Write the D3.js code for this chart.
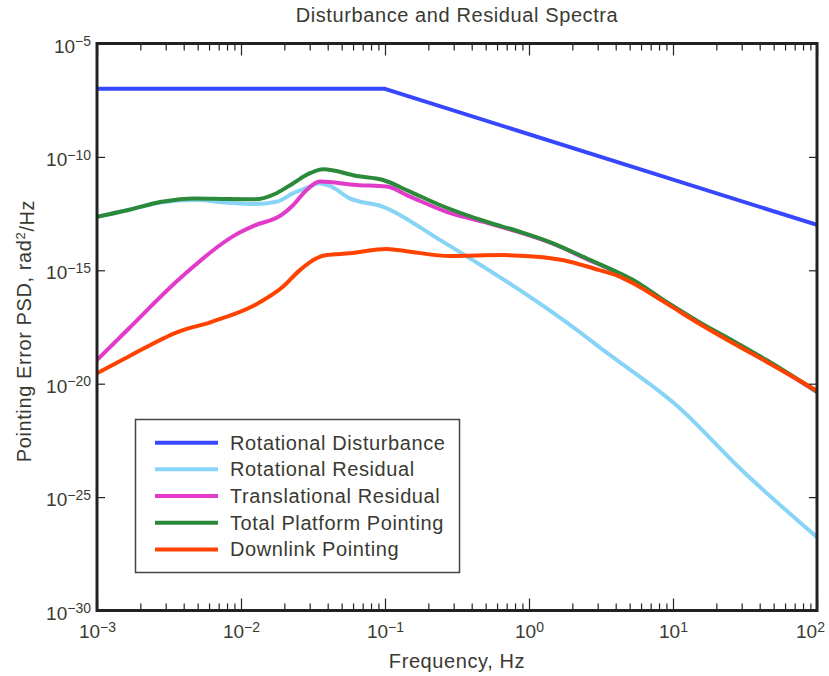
<!DOCTYPE html>
<html>
<head>
<meta charset="utf-8">
<script src="https://cdn.jsdelivr.net/npm/d3@7"></script>
<style>
  body { margin: 0; background: #fff; }
  svg { font-family: "Liberation Sans", Arial, sans-serif; }
  .domain { display: none; }
</style>
</head>
<body>
<svg id="chart" width="829" height="676"></svg>
<script>
// frequency (Hz) and PSD (rad^2/Hz)
const rotDistFreq = [0.001, 0.1, 100];
const rotDistPsd  = [1e-7, 1e-7, 1e-13];

const rotResFreq = [0.001, 0.00165, 0.00281, 0.00479, 0.00811, 0.0125, 0.01766, 0.02307, 0.03013, 0.03436, 0.0414, 0.057, 0.097, 0.2404, 1.726, 3.639, 10.57, 30.48, 100];
const rotResPsd  = [2.29e-13, 4.57e-13, 1.0e-12, 1.26e-12, 9.55e-13, 8.32e-13, 1.05e-12, 2.51e-12, 4.9e-12, 6.92e-12, 5.25e-12, 1.48e-12, 6.31e-13, 2.19e-14, 6.46e-18, 1.86e-19, 1.12e-21, 1.41e-24, 1.7e-27];

const transResFreq = [0.001, 0.00165, 0.00366, 0.00479, 0.00625, 0.00908, 0.0125, 0.01914, 0.02307, 0.02858, 0.03532, 0.0635, 0.1026, 0.149, 0.2673, 0.507, 0.863, 1.469, 2.506, 4.266, 9.016, 15.35, 26.18, 44.57, 100];
const transResPsd  = [1.1e-19, 2.57e-18, 3.72e-16, 1.66e-15, 6.76e-15, 3.55e-14, 9.55e-14, 2.75e-13, 7.59e-13, 3.47e-12, 8.13e-12, 5.75e-12, 4.9e-12, 1.78e-12, 3.8e-13, 1.26e-13, 4.68e-14, 1.48e-14, 3.16e-15, 6.92e-16, 3.8e-17, 4.8e-18, 7.4e-19, 1.05e-19, 4.27e-21];

const totalFreq = [0.001, 0.00165, 0.00281, 0.00479, 0.00811, 0.0125, 0.01766, 0.02307, 0.03013, 0.03724, 0.0635, 0.097, 0.149, 0.2404, 0.507, 0.863, 1.469, 2.506, 4.266, 5.284, 9.016, 15.35, 26.18, 44.57, 100];
const totalPsd  = [2.29e-13, 4.57e-13, 1.05e-12, 1.48e-12, 1.38e-12, 1.35e-12, 2.51e-12, 6.92e-12, 1.91e-11, 2.82e-11, 1.45e-11, 9.55e-12, 2.95e-12, 7.59e-13, 1.38e-13, 5.01e-14, 1.55e-14, 3.39e-15, 7.41e-16, 3.72e-16, 3.98e-17, 5.0e-18, 7.6e-19, 1.1e-19, 4.47e-21];

const downFreq = [0.001, 0.00165, 0.00366, 0.00625, 0.0125, 0.01963, 0.02564, 0.0335, 0.03926, 0.057, 0.1026, 0.149, 0.2818, 0.661, 1.253, 1.919, 2.786, 4.266, 5.284, 9.016, 15.35, 26.18, 44.57, 100];
const downPsd  = [2.88e-20, 1.55e-19, 1.95e-18, 5.37e-18, 2.95e-17, 1.91e-16, 1.02e-15, 3.39e-15, 4.68e-15, 5.62e-15, 8.71e-15, 6.61e-15, 4.27e-15, 4.68e-15, 3.72e-15, 2.4e-15, 1.23e-15, 5.25e-16, 2.69e-16, 3.47e-17, 4.27e-18, 6.03e-19, 9.33e-20, 4.9e-21];

const seriesNames = ["Rotational Disturbance", "Rotational Residual", "Translational Residual", "Total Platform Pointing", "Downlink Pointing"];
const seriesColors = ["#3747ff", "#88d4f6", "#e23bc9", "#2b8a3a", "#ff4200"];

const xMajor = [1e-3, 1e-2, 1e-1, 1e0, 1e1, 1e2];
const xMajorExp = ["−3", "−2", "−1", "0", "1", "2"];
const yMajor = [1e-5, 1e-10, 1e-15, 1e-20, 1e-25, 1e-30];
const yMajorExp = ["−5", "−10", "−15", "−20", "−25", "−30"];

const textColor = "#3a3a32";
const svg = d3.select("#chart");
const pLeft = 97, pRight = 817, pTop = 43.5, pBottom = 610.5;

const x = d3.scaleLog().domain([1e-3, 1e2]).range([pLeft, pRight]);
const y = d3.scaleLog().domain([1e-30, 1e-5]).range([pBottom, pTop]);

svg.append("defs").append("clipPath").attr("id", "plotclip")
  .append("rect").attr("x", pLeft).attr("y", pTop).attr("width", pRight - pLeft).attr("height", pBottom - pTop);

// series lines
let series = [
  [rotDistFreq, rotDistPsd],
  [rotResFreq, rotResPsd],
  [transResFreq, transResPsd],
  [totalFreq, totalPsd],
  [downFreq, downPsd]
];
let g = svg.append("g").attr("clip-path", "url(#plotclip)");
series.forEach(function (s, i) {
  let pts = s[0].map((f, k) => [f, s[1][k]]);
  let line = d3.line()
    .x(d => x(d[0]))
    .y(d => y(d[1]))
    .curve(i == 0 ? d3.curveLinear : d3.curveMonotoneX);
  g.append("path")
    .attr("d", line(pts))
    .attr("fill", "none")
    .attr("stroke", seriesColors[i])
    .attr("stroke-width", 4)
    .attr("stroke-linejoin", "round");
});

// minor x ticks
let xMinor = [];
for (let e = -3; e < 2; e++)
  for (let m = 2; m <= 9; m++) xMinor.push(m * Math.pow(10, e));

function expLabel(sel, exps) {
  sel.selectAll(".tick text").each(function (d, i) {
    let t = d3.select(this);
    t.text(null);
    t.append("tspan").text("10");
    t.append("tspan").attr("dy", "-0.45em").attr("font-size", "14px").text(exps[i]);
  });
}

// bottom axis
let bx = svg.append("g").attr("transform", `translate(0,${pBottom})`)
  .call(d3.axisBottom(x).tickValues(xMajor).tickSize(-12).tickPadding(14));
bx.selectAll(".tick text").attr("font-size", "19px").attr("fill", textColor);
expLabel(bx, xMajorExp);
// last label sits inside the window edge
bx.selectAll(".tick text").filter(d => d == 1e2).attr("dx", "-7px");
svg.append("g").attr("transform", `translate(0,${pBottom})`)
  .call(d3.axisBottom(x).tickValues(xMinor).tickSize(-7).tickFormat(""));

// top axis
svg.append("g").attr("transform", `translate(0,${pTop})`)
  .call(d3.axisTop(x).tickValues(xMajor).tickSize(-12).tickFormat(""));
svg.append("g").attr("transform", `translate(0,${pTop})`)
  .call(d3.axisTop(x).tickValues(xMinor).tickSize(-7).tickFormat(""));

// left axis
let ly = svg.append("g").attr("transform", `translate(${pLeft},0)`)
  .call(d3.axisLeft(y).tickValues(yMajor).tickSize(-8).tickPadding(6));
ly.selectAll(".tick text").attr("font-size", "19px").attr("fill", textColor).attr("dy", "0.45em");
expLabel(ly, yMajorExp);

// right axis
svg.append("g").attr("transform", `translate(${pRight},0)`)
  .call(d3.axisRight(y).tickValues(yMajor).tickSize(-8).tickFormat(""));

svg.selectAll(".tick line").attr("stroke", "#222").attr("stroke-width", 1.2);

// frame
svg.append("rect")
  .attr("x", pLeft).attr("y", pTop)
  .attr("width", pRight - pLeft).attr("height", pBottom - pTop)
  .attr("fill", "none").attr("stroke", "#222").attr("stroke-width", 3);

// title and axis labels
const labelFont = "20px", labelSpacing = "0.6px";
svg.append("text").attr("x", 457).attr("y", 22).attr("text-anchor", "middle")
  .attr("font-size", labelFont).attr("letter-spacing", labelSpacing)
  .attr("fill", textColor).text("Disturbance and Residual Spectra");
svg.append("text").attr("x", 457).attr("y", 668).attr("text-anchor", "middle")
  .attr("font-size", labelFont).attr("letter-spacing", labelSpacing)
  .attr("fill", textColor).text("Frequency, Hz");
let yl = svg.append("text").attr("transform", "translate(31,331) rotate(-90)")
  .attr("text-anchor", "middle").attr("font-size", labelFont)
  .attr("letter-spacing", labelSpacing).attr("fill", textColor);
yl.append("tspan").text("Pointing Error PSD, rad");
yl.append("tspan").attr("dy", "-0.45em").attr("font-size", "13px").text("2");
yl.append("tspan").attr("dy", "0.45em").text("/Hz");

// legend
let lg = svg.append("g");
lg.append("rect").attr("x", 135.5).attr("y", 419.5).attr("width", 324).attr("height", 153)
  .attr("fill", "#fff").attr("stroke", "#444").attr("stroke-width", 1.5);
seriesNames.forEach(function (name, i) {
  let yy = 442.7 + i * 26.67;
  lg.append("line").attr("x1", 155).attr("x2", 218).attr("y1", yy).attr("y2", yy)
    .attr("stroke", seriesColors[i]).attr("stroke-width", 4);
  lg.append("text").attr("x", 230).attr("y", yy + 7).attr("font-size", labelFont)
    .attr("letter-spacing", labelSpacing).attr("fill", textColor).text(name);
});
</script>
</body>
</html>
